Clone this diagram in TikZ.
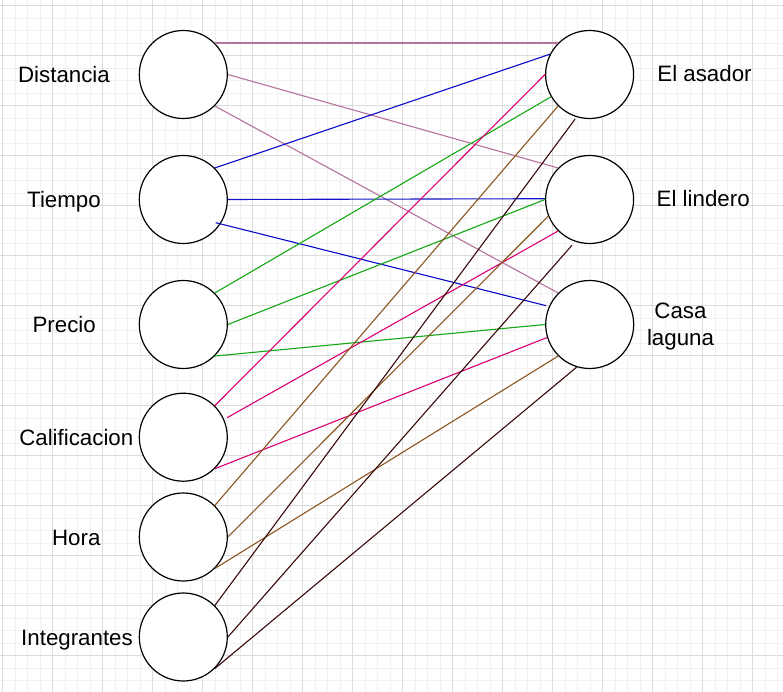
\documentclass[tikz,border=0pt]{standalone}
\usepackage{fontspec}
\setmainfont{Liberation Sans}
\usetikzlibrary{calc}
\definecolor{gridminor}{HTML}{F1F1F1}
\definecolor{gridmajor}{HTML}{DBDBDB}
\definecolor{cmauve}{HTML}{B5739D}
\definecolor{cblue}{HTML}{0A0ACC}
\definecolor{cnavy}{HTML}{1414C8}
\definecolor{cgreen}{HTML}{14A814}
\definecolor{cpink}{HTML}{D80073}
\definecolor{cbrown}{HTML}{8C5520}
\definecolor{cdark}{HTML}{3A0A0A}
\tikzset{
  vertex/.style={circle,draw=black,fill=white,line width=1.2pt,minimum size=88pt,inner sep=0pt},
  lbl/.style={anchor=base,inner sep=0pt,font=\fontsize{22.3}{26.5}\selectfont},
  edge/.style={line width=1.1pt}
}
\begin{document}
\begin{tikzpicture}[x=1pt,y=1pt]
\useasboundingbox (0,0) rectangle (783,-692);
\fill[white] (0,0) rectangle (783,-692);
% grid
\foreach \i in {0,...,62}{\draw[gridminor,line width=0.9pt] ({2.5+12.5*\i},0) -- ({2.5+12.5*\i},-692);}
\foreach \j in {0,...,54}{\draw[gridminor,line width=0.9pt] (0,{-5.5-12.5*\j}) -- (783,{-5.5-12.5*\j});}
\foreach \i in {0,...,15}{\draw[gridmajor,line width=0.9pt] ({2.5+50*\i},0) -- ({2.5+50*\i},-692);}
\foreach \j in {0,...,13}{\draw[gridmajor,line width=0.9pt] (0,{-5.5-50*\j}) -- (783,{-5.5-50*\j});}
% nodes
\node[vertex] (D) at (183.3,-74.5) {};
\node[vertex] (T) at (183.3,-199.5) {};
\node[vertex] (P) at (183.3,-324.5) {};
\node[vertex] (C) at (183.3,-437.2) {};
\node[vertex] (H) at (183.3,-537) {};
\node[vertex] (I) at (183.3,-637) {};
\node[vertex] (A) at (589.6,-74.5) {};
\node[vertex] (L) at (589.6,-199.5) {};
\node[vertex] (K) at (589.7,-324.5) {};
% labels
\node[lbl] (Dl) at (64,-82.3) {Distancia};
\node[lbl] (Tl) at (64,-207.3) {Tiempo};
\node[lbl] (Pl) at (64.2,-332.3) {Precio};
\node[lbl] (Cl) at (76.3,-445.5) {Calificacion};
\node[lbl] (Hl) at (76.3,-545.5) {Hora};
\node[lbl] (Il) at (77,-645) {Integrantes};
\node[lbl] (Al) at (704.5,-81.9) {El asador};
\node[lbl] (Ll) at (703.2,-206.9) {El lindero};
\node[lbl,anchor=center,align=center] (Kl) at (680.5,-326.3) {Casa\\laguna};
% edges
\draw[edge,cmauve] (D.45) -- (A.135);
\draw[edge,cmauve] (D.0) -- (L.135);
\draw[edge,cmauve] (D.-45) -- (K.135);
\draw[edge,cblue] (T.45) -- (A.153);
\draw[edge,cnavy] (T.0.4) -- (L.179.6);
\draw[edge,cblue] ($(T)+(-35.6:39.8)$) -- ($(K)+(156.7:47.6)$);
\draw[edge,cgreen] (P.45) -- (A.210);
\draw[edge,cgreen] (P.0) -- (L.180);
\draw[edge,cgreen] (P.-45) -- (K.180);
\draw[edge,cpink] (C.45) -- (A.180);
\draw[edge,cpink] ($(C)+(24:48)$) -- (L.225);
\draw[edge,cpink] (C.-45) -- (K.197);
\draw[edge,cbrown] (H.45) -- (A.225);
\draw[edge,cbrown] (H.0) -- (L.202);
\draw[edge,cbrown] (H.-45) -- (K.225);
\draw[edge,cdark] (I.45) -- ($(A)+(252:46.8)$);
\draw[edge,cdark] (I.0) -- ($(L)+(249:48.9)$);
\draw[edge,cdark] (I.-45) -- (K.253);
\end{tikzpicture}
\end{document}
